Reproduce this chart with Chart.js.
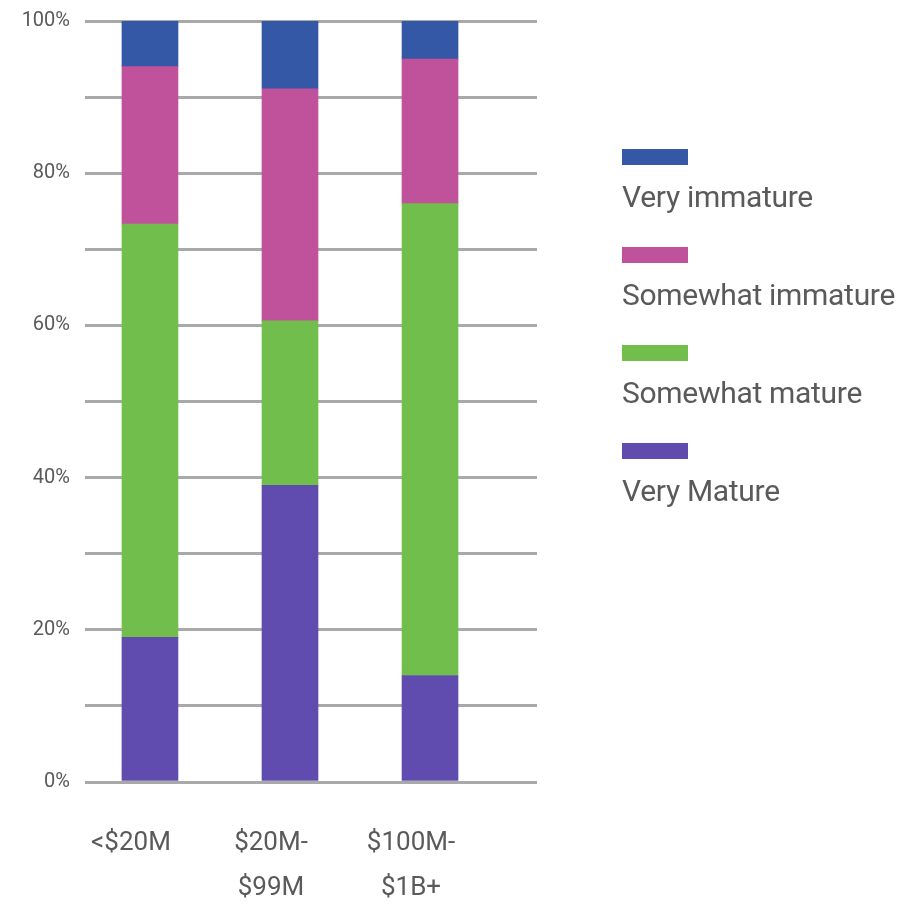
<!DOCTYPE html>
<html>
<head>
<meta charset="utf-8">
<script src="https://cdn.jsdelivr.net/npm/chart.js@4"></script>
<style>
  body { margin: 0; background: #fff; font-family: Roboto, sans-serif; }
  #wrap { position: relative; width: 909px; height: 907px; }
  #legend { position: absolute; left: 622px; top: 149px; display: flex; flex-direction: column; gap: 33px; }
  .item .box { width: 66px; height: 16px; margin-bottom: 15px; }
  .item .txt { font-size: 30px; line-height: 34px; color: #5a5a5a; letter-spacing: -0.3px; white-space: nowrap; }
</style>
</head>
<body>
<div id="wrap">
  <canvas id="maturityChart"></canvas>
  <div id="legend"></div>
</div>
<script>
// Data
const categories = [["<$20M"], ["$20M-", "$99M"], ["$100M-", "$1B+"]];
const veryMature = [19, 39, 14];
const somewhatMature = [54.3, 21.6, 62];
const somewhatImmature = [20.7, 30.5, 19];
const veryImmature = [6, 8.9, 5];

const toPoints = arr => arr.map((v, i) => ({ x: i, y: v }));

document.addEventListener("DOMContentLoaded", () => {
  const ctx = document.getElementById("maturityChart").getContext("2d");

  const chart = new Chart(ctx, {
    type: "bar",
    data: {
      datasets: [
        { label: "Very Mature", data: toPoints(veryMature), backgroundColor: "#604bae" },
        { label: "Somewhat mature", data: toPoints(somewhatMature), backgroundColor: "#72be4d" },
        { label: "Somewhat immature", data: toPoints(somewhatImmature), backgroundColor: "#c0529b" },
        { label: "Very immature", data: toPoints(veryImmature), backgroundColor: "#3458a5" },
      ],
    },
    options: {
      responsive: true,
      maintainAspectRatio: false,
      animation: false,
      barThickness: 56,
      layout: { padding: { top: 21, right: 372, bottom: 0, left: 0 } },
      plugins: {
        legend: { display: false },
        tooltip: { enabled: false },
      },
      scales: {
        x: {
          type: "linear",
          stacked: true,
          offset: false,
          min: -0.464,
          max: 2.764,
          grid: { display: false, drawTicks: false, offset: false },
          border: { display: false },
          afterBuildTicks: scale => {
            scale.ticks = categories.map((c, i) => ({ value: i }));
          },
          afterFit: scale => {
            scale.height = 125;
            scale.paddingLeft = 0;
            scale.paddingRight = 0;
          },
          ticks: {
            padding: 39,
            labelOffset: -19,
            color: "#5a5a5a",
            font: { family: "Roboto", size: 26, lineHeight: 45 / 26 },
            maxRotation: 0,
            callback: value => categories[value],
          },
        },
        y: {
          stacked: true,
          min: 0,
          max: 100,
          grid: { color: "#a9a9a9", lineWidth: 3, drawTicks: false },
          border: { display: false },
          afterFit: scale => {
            scale.width = 85;
            scale.paddingTop = 0;
            scale.paddingBottom = 0;
          },
          ticks: {
            stepSize: 10,
            padding: 15,
            color: "#5a5a5a",
            font: { family: "Roboto", size: 20 },
            callback: value => (value % 20 === 0 ? value + "%" : ""),
          },
        },
      },
    },
  });

  // Legend built from the datasets, top of stack first
  const legend = document.getElementById("legend");
  chart.data.datasets.slice().reverse().forEach(ds => {
    const item = document.createElement("div");
    item.className = "item";
    item.innerHTML = '<div class="box" style="background:' + ds.backgroundColor + '"></div>' +
      '<div class="txt">' + ds.label + "</div>";
    legend.appendChild(item);
  });
});
</script>
</body>
</html>
